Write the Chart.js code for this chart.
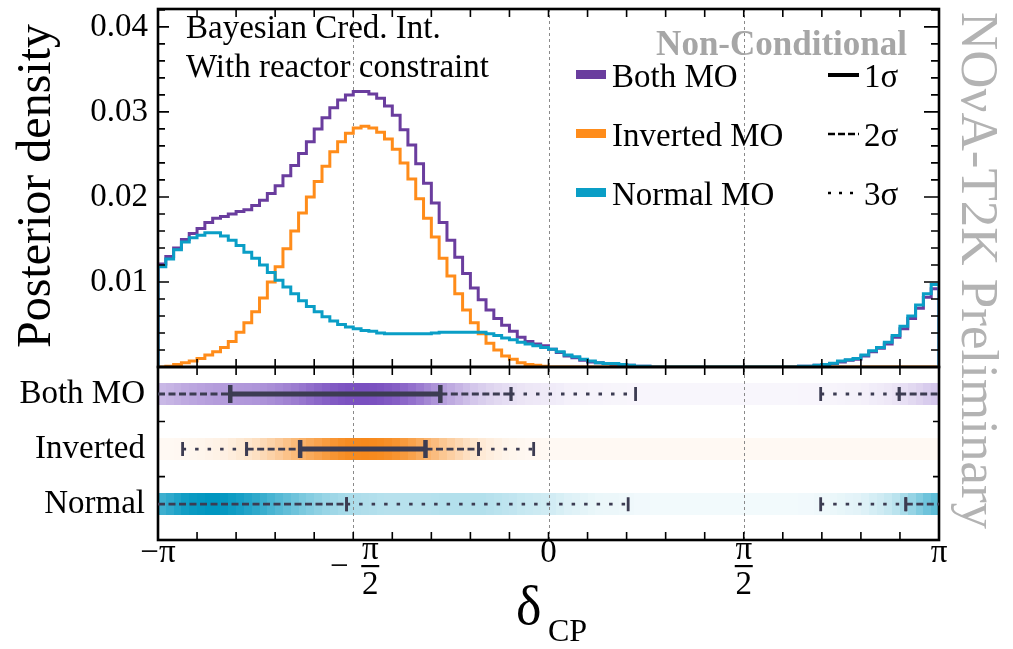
<!DOCTYPE html>
<html>
<head>
<meta charset="utf-8">
<script src="https://cdn.jsdelivr.net/npm/chart.js@4.4.1/dist/chart.umd.min.js"></script>
<style>
  html, body { margin: 0; padding: 0; background: #fff; }
</style>
</head>
<body>
<canvas id="deltacp" width="1013" height="649"></canvas>
<script>
// posterior density per bin, 100 bins from -pi to pi
var normalMO = [
  0.0118, 0.0127, 0.0138, 0.0147, 0.0152, 0.0155, 0.0158, 0.0158, 0.0154, 0.0149,
  0.0143, 0.0135, 0.0128, 0.0120, 0.0111, 0.0102, 0.0094, 0.0086, 0.0078, 0.0071,
  0.0065, 0.0059, 0.0054, 0.0050, 0.0047, 0.0045, 0.0043, 0.0042, 0.0040, 0.0039,
  0.0039, 0.0039, 0.0039, 0.0039, 0.0039, 0.0040, 0.0041, 0.0041, 0.0041, 0.0041,
  0.0041, 0.0041, 0.0039, 0.0037, 0.0034, 0.0032, 0.0029, 0.0027, 0.0025, 0.0023,
  0.0021, 0.0018, 0.0014, 0.0012, 0.0009, 0.0007, 0.0005, 0.0004, 0.0004, 0.0003,
  0.0002, 0.0001, 0.0001, 0, 0, 0, 0, 0, 0, 0,
  0, 0, 0, 0, 0, 0, 0, 0, 0, 0,
  0, 0, 0.0001, 0.0001, 0.0002, 0.0003, 0.00045, 0.0007, 0.00085, 0.0010,
  0.0014, 0.0019, 0.0023, 0.0029, 0.0037, 0.0048, 0.0060, 0.0073, 0.0086, 0.0097
];
var invertedMO = [
  0, 0.0001, 0.0003, 0.0005, 0.0007, 0.0010, 0.0014, 0.0018, 0.0023, 0.0030,
  0.0041, 0.0052, 0.0065, 0.0081, 0.0100, 0.0118, 0.0139, 0.0160, 0.0181, 0.0200,
  0.0218, 0.0236, 0.0253, 0.0265, 0.0275, 0.0281, 0.0283, 0.0281, 0.0276, 0.0268,
  0.0256, 0.0240, 0.0221, 0.0198, 0.0175, 0.0153, 0.0128, 0.0107, 0.0086, 0.0067,
  0.0052, 0.0039, 0.0028, 0.0020, 0.0013, 0.0009, 0.0005, 0.0003, 0.0002, 0.0001,
  0, 0, 0, 0, 0, 0, 0, 0, 0, 0,
  0, 0, 0, 0, 0, 0, 0, 0, 0, 0,
  0, 0, 0, 0, 0, 0, 0, 0, 0, 0,
  0, 0, 0, 0, 0, 0, 0, 0, 0, 0,
  0, 0, 0, 0, 0, 0, 0, 0, 0, 0
];
var bothMO = [
  0.0121, 0.0130, 0.0140, 0.0150, 0.0157, 0.0163, 0.0170, 0.0175, 0.0177, 0.0180,
  0.0183, 0.0185, 0.0190, 0.0196, 0.0204, 0.0213, 0.0225, 0.0237, 0.0251, 0.0265,
  0.0280, 0.0293, 0.0305, 0.0314, 0.0320, 0.0324, 0.0324, 0.0321, 0.0316, 0.0307,
  0.0296, 0.0279, 0.0261, 0.0239, 0.0216, 0.0193, 0.0170, 0.0149, 0.0129, 0.0110,
  0.0093, 0.0079, 0.0067, 0.0057, 0.0049, 0.0042, 0.0035, 0.0030, 0.0027, 0.0025,
  0.0021, 0.0017, 0.0013, 0.0011, 0.0008, 0.0006, 0.0005, 0.0004, 0.0003, 0.0003,
  0.0002, 0.0001, 0.0001, 0, 0, 0, 0, 0, 0, 0,
  0, 0, 0, 0, 0, 0, 0, 0, 0, 0,
  0, 0, 0.0001, 0.0001, 0.0002, 0.0003, 0.0004, 0.0006, 0.0008, 0.0009,
  0.0013, 0.0018, 0.0022, 0.0027, 0.0035, 0.0045, 0.0057, 0.0069, 0.0082, 0.0092
];

// credible intervals, in units of pi
var bothOne = [[-0.815, -0.277]];
var bothTwo = [[-1, -0.815], [-0.277, -0.096], [0.898, 1]];
var bothThree = [[-0.096, 0.223], [0.697, 0.898]];
var invOne = [[-0.636, -0.315]];
var invTwo = [[-0.773, -0.636], [-0.315, -0.179]];
var invThree = [[-0.937, -0.773], [-0.179, -0.038]];
var normOne = [];
var normTwo = [[-1, -0.517], [0.915, 1]];
var normThree = [[-0.517, 0.204], [0.697, 0.915]];

var rowLabels = ['Both MO', 'Inverted', 'Normal'];
var legendLabels = ['Both MO', 'Inverted MO', 'Normal MO'];
var sigmaLabels = ['1σ', '2σ', '3σ'];
var yTicks = [0.01, 0.02, 0.03, 0.04];
var xTicks = [-1, -0.5, 0, 0.5, 1];
var xTickNum = ['−π', 'π', '0', 'π', 'π'];
var xTickDen = ['', '2', '', '2', ''];
var xTickSign = ['', '−', '', '', ''];

var lineColors = ['#6a3d9e', '#ff8c1a', '#0a9ec6'];
var bandColors = [[122, 80, 192], [247, 137, 28], [0, 150, 192]];
var markColor = '#3c3c52';
var serif = "'Liberation Serif', 'DejaVu Serif', serif";

var binW = 2 * Math.PI / bothMO.length;
function histPoints(vals) {
  var pts = [{x: -Math.PI, y: 0}];
  vals.forEach(function (v, i) { pts.push({x: -Math.PI + i * binW, y: v}); });
  pts.push({x: Math.PI, y: 0});
  return pts;
}

function drawSegs(ctx, xs, yc, segs, kind) {
  var styles = {
    one: {w: 5, dash: [], cap: 18, capW: 4.5},
    two: {w: 2.8, dash: [7, 3.5], cap: 14, capW: 2.8},
    three: {w: 2.8, dash: [3.5, 9], cap: 14, capW: 2.8}
  };
  var st = styles[kind];
  ctx.strokeStyle = markColor;
  segs.forEach(function (s) {
    var a = xs.getPixelForValue(s[0] * Math.PI), b = xs.getPixelForValue(s[1] * Math.PI);
    ctx.setLineDash(st.dash);
    ctx.lineWidth = st.w;
    ctx.beginPath(); ctx.moveTo(a, yc); ctx.lineTo(b, yc); ctx.stroke();
    ctx.setLineDash([]);
    ctx.lineWidth = st.capW;
    ctx.beginPath();
    if (s[0] > -1) { ctx.moveTo(a, yc - st.cap / 2); ctx.lineTo(a, yc + st.cap / 2); }
    if (s[1] < 1) { ctx.moveTo(b, yc - st.cap / 2); ctx.lineTo(b, yc + st.cap / 2); }
    ctx.stroke();
  });
}

var panels = {
  id: 'panels',
  beforeDatasetsDraw: function (chart) {
    var ctx = chart.ctx, xs = chart.scales.x, rs = chart.scales.y2, area = chart.chartArea;
    ctx.save();
    // shaded bands, one per mass ordering
    [bothMO, invertedMO, normalMO].forEach(function (vals, r) {
      var mx = Math.max.apply(null, vals), col = bandColors[r], yc = rs.getPixelForValue(r);
      vals.forEach(function (v, i) {
        var a = Math.round(xs.getPixelForValue(-Math.PI + i * binW));
        var b = Math.round(xs.getPixelForValue(-Math.PI + (i + 1) * binW));
        ctx.fillStyle = 'rgba(' + col.join(',') + ',' + (0.05 + 0.95 * v / mx).toFixed(3) + ')';
        ctx.fillRect(a, Math.round(yc - 11), b - a, 22);
      });
    });
    // dotted guides
    ctx.strokeStyle = '#8a8a8a';
    ctx.lineWidth = 1;
    ctx.setLineDash([3, 3]);
    [-0.5, 0, 0.5].forEach(function (v) {
      var px = Math.round(xs.getPixelForValue(v * Math.PI)) + 0.5;
      ctx.beginPath(); ctx.moveTo(px, area.top); ctx.lineTo(px, area.bottom); ctx.stroke();
    });
    ctx.restore();
  },
  afterDatasetsDraw: function (chart) {
    var ctx = chart.ctx, xs = chart.scales.x, ys = chart.scales.y, rs = chart.scales.y2;
    var L = chart.chartArea.left, R = chart.chartArea.right;
    ctx.save();
    ctx.strokeStyle = '#000';
    ctx.setLineDash([]);
    // ticks
    ctx.lineWidth = 1.6;
    ctx.beginPath();
    [[ys.top, ys.bottom], [rs.top, rs.bottom]].forEach(function (p) {
      for (var k = -10; k <= 10; k++) {
        var px = xs.getPixelForValue(k * Math.PI / 10);
        ctx.moveTo(px, p[0]); ctx.lineTo(px, p[0] + 8);
        ctx.moveTo(px, p[1]); ctx.lineTo(px, p[1] - 8);
      }
    });
    for (var k = 1; k <= 21; k++) {
      var py = ys.getPixelForValue(k * 0.002), major = k % 5 === 0;
      ctx.moveTo(L, py); ctx.lineTo(L + (major ? 11 : 7), py);
      ctx.moveTo(R, py); ctx.lineTo(R - (major ? 15 : 8), py);
    }
    [0.5, 1.5].forEach(function (v) {
      var py = rs.getPixelForValue(v);
      ctx.moveTo(L, py); ctx.lineTo(L + 7, py);
      ctx.moveTo(R, py); ctx.lineTo(R - 6, py);
    });
    ctx.stroke();
    // frames
    ctx.lineWidth = 2.6;
    ctx.strokeRect(L, ys.top, R - L, ys.bottom - ys.top);
    ctx.strokeRect(L, rs.top, R - L, rs.bottom - rs.top);

    // credible intervals
    var rows = [[bothOne, bothTwo, bothThree], [invOne, invTwo, invThree], [normOne, normTwo, normThree]];
    rows.forEach(function (row, r) {
      var yc = rs.getPixelForValue(r);
      drawSegs(ctx, xs, yc, row[2], 'three');
      drawSegs(ctx, xs, yc, row[1], 'two');
      drawSegs(ctx, xs, yc, row[0], 'one');
    });

    // x tick labels
    ctx.fillStyle = '#000';
    ctx.textAlign = 'center';
    ctx.textBaseline = 'alphabetic';
    ctx.font = '33px ' + serif;
    xTicks.forEach(function (v, i) {
      var px = xs.getPixelForValue(v * Math.PI);
      if (!xTickDen[i]) {
        ctx.fillText(xTickNum[i], px, 562);
        return;
      }
      var fx = xTickSign[i] ? px + 17 : px;
      ctx.fillText(xTickNum[i], fx, 559);
      ctx.fillText(xTickDen[i], fx, 594);
      ctx.fillRect(fx - 9, 565, 18, 2.2);
      if (xTickSign[i]) ctx.fillText(xTickSign[i], px - 14, 576);
    });
    // axis titles
    ctx.textAlign = 'left';
    ctx.font = '54px ' + serif;
    ctx.fillText('δ', 516, 624);
    ctx.font = '32px ' + serif;
    ctx.fillText('CP', 548, 641);
    ctx.save();
    ctx.translate(50, 186);
    ctx.rotate(-Math.PI / 2);
    ctx.textAlign = 'center';
    ctx.font = '48px ' + serif;
    ctx.fillText('Posterior density', 0, 0);
    ctx.restore();

    // annotations
    ctx.font = '33px ' + serif;
    ctx.fillText('Bayesian Cred. Int.', 186, 38);
    ctx.fillText('With reactor constraint', 186, 77);
    ctx.textAlign = 'right';
    ctx.fillStyle = '#a6a6a6';
    ctx.font = 'bold 35px ' + serif;
    ctx.fillText('Non-Conditional', 907, 55);

    // legend
    ctx.textAlign = 'left';
    ctx.font = '33px ' + serif;
    var dashes = [[], [7, 3], [3, 8]];
    legendLabels.forEach(function (lab, i) {
      var yc = 75 + i * 59;
      ctx.fillStyle = lineColors[i];
      ctx.fillRect(576, yc - 5, 30, 9);
      ctx.fillStyle = '#000';
      ctx.fillText(lab, 612, yc + 12);
      ctx.fillText(sigmaLabels[i], 864, yc + 12);
      ctx.strokeStyle = '#000';
      ctx.lineWidth = i === 0 ? 4 : 2.5;
      ctx.setLineDash(dashes[i]);
      ctx.beginPath(); ctx.moveTo(828, yc); ctx.lineTo(859, yc); ctx.stroke();
    });
    ctx.setLineDash([]);

    // preliminary tag
    ctx.save();
    ctx.translate(962, 12);
    ctx.rotate(Math.PI / 2);
    ctx.fillStyle = '#b3b3b3';
    ctx.font = '53px ' + serif;
    ctx.fillText('NOνA-T2K Preliminary', 0, 0);
    ctx.restore();
    ctx.restore();
  }
};

var tickFont = {family: 'Liberation Serif', size: 33};
var ctx = document.getElementById('deltacp');
var myChart = new Chart(ctx, {
  type: 'line',
  data: {
    datasets: [
      {label: 'Normal MO', data: histPoints(normalMO), borderColor: lineColors[2]},
      {label: 'Inverted MO', data: histPoints(invertedMO), borderColor: lineColors[1]},
      {label: 'Both MO', data: histPoints(bothMO), borderColor: lineColors[0]}
    ].map(function (d) {
      d.stepped = true;
      d.borderWidth = 3;
      d.pointRadius = 0;
      d.fill = false;
      d.yAxisID = 'y';
      return d;
    })
  },
  options: {
    responsive: false,
    animation: false,
    events: [],
    layout: {padding: {top: 9, right: 74, left: 0, bottom: 0}},
    plugins: {legend: {display: false}, tooltip: {enabled: false}},
    scales: {
      x: {
        type: 'linear',
        min: -Math.PI,
        max: Math.PI,
        grid: {display: false},
        border: {display: false},
        ticks: {display: false},
        afterFit: function (s) { s.height = 109; s.paddingLeft = 0; s.paddingRight = 0; }
      },
      y: {
        type: 'linear',
        position: 'left',
        stack: 'panels',
        stackWeight: 358,
        weight: 2,
        min: 0,
        max: 0.0421,
        grid: {display: false, drawTicks: false},
        border: {display: false},
        afterBuildTicks: function (s) { s.ticks = yTicks.map(function (v) { return {value: v}; }); },
        afterFit: function (s) { s.width = 158; s.paddingTop = 0; s.paddingBottom = 0; },
        ticks: {
          font: tickFont,
          color: '#000',
          padding: 10,
          autoSkip: false,
          callback: function (v) { return v.toFixed(2); }
        }
      },
      y2: {
        type: 'linear',
        position: 'left',
        stack: 'panels',
        stackWeight: 173,
        weight: 1,
        min: -0.49,
        max: 2.65,
        reverse: true,
        grid: {display: false, drawTicks: false},
        border: {display: false},
        afterBuildTicks: function (s) { s.ticks = rowLabels.map(function (l, i) { return {value: i}; }); },
        afterFit: function (s) { s.width = 158; s.paddingTop = 0; s.paddingBottom = 0; },
        ticks: {
          font: tickFont,
          color: '#000',
          padding: 13,
          autoSkip: false,
          callback: function (v) { return rowLabels[v]; }
        }
      }
    }
  },
  plugins: [panels]
});
</script>
</body>
</html>
